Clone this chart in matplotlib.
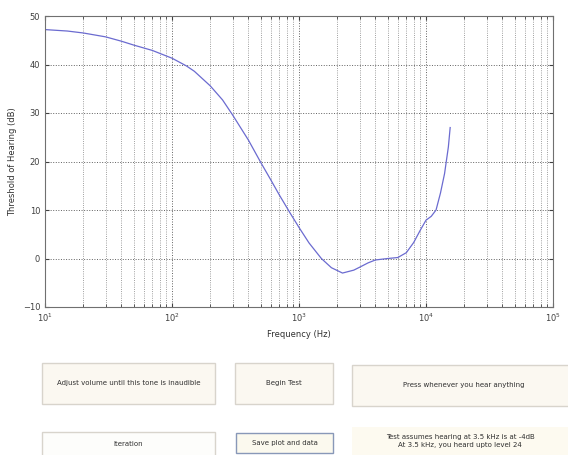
import matplotlib
matplotlib.use('Agg')
import matplotlib.pyplot as plt
from matplotlib.patches import Rectangle
import numpy as np

# threshold of hearing curve
freq = [10, 15, 20, 30, 40, 50, 70, 100, 130, 150, 200, 250, 300, 400, 500, 600,
        700, 850, 1000, 1200, 1500, 1800, 2200, 2700, 3000, 3500, 4000, 5000,
        6000, 7000, 8000, 9000, 10000, 11000, 12000, 13000, 14000, 15000, 15500]
thresh = [47.2, 46.9, 46.5, 45.7, 44.8, 44.0, 42.9, 41.3, 39.7, 38.6, 35.6, 32.7,
          29.6, 24.4, 19.8, 16.2, 13.1, 9.4, 6.4, 3.2, 0.0, -1.9, -3.0, -2.4,
          -1.8, -0.9, -0.3, 0.0, 0.2, 1.2, 3.3, 5.8, 7.9, 8.7, 10.0, 13.5, 17.5,
          23.0, 27.0]

buttons = [
    # text, x0, y0, x1, y1 (pixels), face, edge
    ('Adjust volume until this tone is inaudible', 42, 363, 215, 404, '#fbf8f1', '#d8d4cc'),
    ('Begin Test', 235, 363, 333, 404, '#fbf8f1', '#d8d4cc'),
    ('Press whenever you hear anything', 352, 365, 575, 406, '#fbf8f1', '#d8d4cc'),
    ('Iteration', 42, 432, 215, 460, '#fdfdfb', '#d8d4cc'),
    ('Save plot and data', 236, 433, 333, 453, '#fbf9ee', '#8898b8'),
]
info_text = 'Test assumes hearing at 3.5 kHz is at -4dB\nAt 3.5 kHz, you heard upto level 24'

W, H = 568, 455
fig = plt.figure(figsize=(W / 100, H / 100), dpi=100)
ax = fig.add_axes([45 / W, 1 - 307 / H, 508 / W, 291 / H])

ax.semilogx(freq, thresh, color='#6b6bd0', lw=0.9)
ax.set_xlim(10, 1e5)
ax.set_ylim(-10, 50)
ax.set_yticks(np.arange(-10, 51, 10))
ax.grid(True, which='major', ls=':', color='#606060', lw=0.7)
ax.grid(True, which='minor', ls=':', color='#808080', lw=0.6)
ax.tick_params(labelsize=6, colors='#404040', which='both', direction='in',
               length=3, top=True, right=True)
ax.tick_params(which='minor', length=2)
for s in ax.spines.values():
    s.set_color('#707070')
ax.set_xlabel('Frequency (Hz)', fontsize=6, color='#303030')
ax.set_ylabel('Threshold of Hearing (dB)', fontsize=6, color='#303030')

for txt, x0, y0, x1, y1, fc, ec in buttons:
    r = Rectangle((x0 / W, 1 - y1 / H), (x1 - x0) / W, (y1 - y0) / H,
                  transform=fig.transFigure, facecolor=fc, edgecolor=ec, lw=1)
    fig.patches.append(r)
    fig.text((x0 + x1) / 2 / W, 1 - (y0 + min(y1, H)) / 2 / H, txt,
             ha='center', va='center', fontsize=5, color='#303030')

fig.patches.append(Rectangle((352 / W, 1 - 455 / H), 216 / W, 28 / H,
                             transform=fig.transFigure, facecolor='#fdfaf0', edgecolor='none'))
fig.text(460 / W, 1 - 441 / H, info_text, ha='center', va='center',
         fontsize=5, color='#303030', linespacing=1.3)

fig.savefig('out.png', dpi=100)
